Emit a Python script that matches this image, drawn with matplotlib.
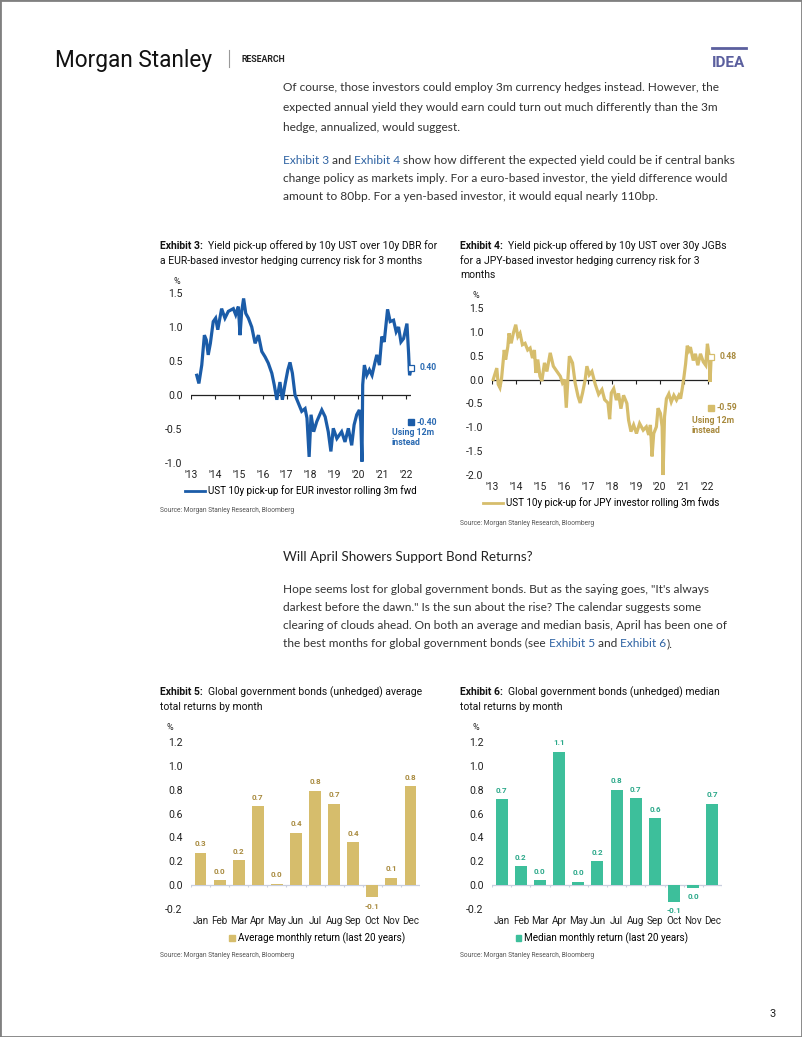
"""Morgan Stanley research page: two yield pick-up lines and two monthly return bar charts."""
import matplotlib; matplotlib.use("Agg")
import matplotlib.pyplot as plt
from matplotlib.lines import Line2D
from matplotlib.patches import Patch, Rectangle
from matplotlib.ticker import FormatStrFormatter

plt.rcParams['font.family'] = ['Roboto', 'DejaVu Sans']
plt.rcParams['axes.unicode_minus'] = False

# ---- Exhibit 3: UST 10y pick-up for EUR investor, rolling 3m fwd (%)
eur_year = [2013.24, 2013.33, 2013.45, 2013.56, 2013.64, 2013.72, 2013.81, 2013.93, 2014.03, 2014.12,
            2014.28, 2014.42, 2014.56, 2014.77, 2014.87, 2014.98, 2015.05, 2015.12, 2015.20, 2015.29,
            2015.40, 2015.54, 2015.68, 2015.82, 2015.96, 2016.10, 2016.23, 2016.38, 2016.48, 2016.59,
            2016.72, 2016.82, 2016.93, 2017.05, 2017.14, 2017.24, 2017.35, 2017.49, 2017.63, 2017.77,
            2017.85, 2017.94, 2018.02, 2018.13, 2018.26, 2018.47, 2018.61, 2018.74, 2018.85, 2018.95,
            2019.10, 2019.30, 2019.44, 2019.58, 2019.72, 2019.82, 2019.93, 2020.04, 2020.10, 2020.15,
            2020.18, 2020.25, 2020.35, 2020.46, 2020.57, 2020.70, 2020.77, 2020.88, 2020.98, 2021.08,
            2021.22, 2021.33, 2021.47, 2021.58, 2021.68, 2021.78, 2021.89, 2022.03, 2022.10, 2022.14,
            2022.20]
eur_val = [0.29, 0.17, 0.44, 0.88, 0.81, 0.59, 0.76, 1.08, 1.13, 0.96,
           1.27, 1.13, 1.23, 1.27, 1.18, 1.30, 0.88, 1.23, 1.42, 1.20,
           1.13, 1.00, 0.76, 0.88, 0.64, 0.56, 0.47, 0.32, 0.15, -0.07,
           0.19, -0.07, 0.15, 0.37, 0.48, 0.32, 0.00, -0.12, -0.24, -0.20,
           -0.34, -0.91, -0.29, -0.54, -0.39, -0.22, -0.32, -0.54, -0.83, -0.49,
           -0.64, -0.54, -0.69, -0.49, -0.74, -0.44, -0.29, -0.22, -0.39, -0.98,
           0.15, 0.44, 0.29, 0.37, 0.29, 0.49, 0.59, 0.44, 0.86, 0.78,
           1.26, 1.08, 1.10, 0.93, 1.00, 0.78, 0.83, 1.05, 0.61, 0.29,
           0.39]
eur_last, eur_12m = 0.40, -0.40

# ---- Exhibit 4: UST 10y pick-up for JPY investor, rolling 3m fwds (%)
jpy_year = [2013.05, 2013.20, 2013.26, 2013.33, 2013.40, 2013.51, 2013.57, 2013.66, 2013.71, 2013.80,
            2013.89, 2013.99, 2014.08, 2014.17, 2014.27, 2014.38, 2014.49, 2014.59, 2014.69, 2014.77,
            2014.83, 2014.91, 2015.00, 2015.08, 2015.19, 2015.29, 2015.43, 2015.56, 2015.71, 2015.85,
            2015.94, 2016.03, 2016.10, 2016.17, 2016.23, 2016.36, 2016.47, 2016.59, 2016.68, 2016.78,
            2016.89, 2016.96, 2017.06, 2017.17, 2017.31, 2017.45, 2017.59, 2017.70, 2017.84, 2017.91,
            2017.98, 2018.08, 2018.19, 2018.28, 2018.38, 2018.49, 2018.63, 2018.70, 2018.80, 2018.91,
            2019.03, 2019.16, 2019.31, 2019.44, 2019.54, 2019.61, 2019.68, 2019.75, 2019.86, 2019.93,
            2020.03, 2020.10, 2020.14, 2020.20, 2020.28, 2020.38, 2020.48, 2020.59, 2020.70, 2020.80,
            2020.87, 2020.94, 2021.01, 2021.08, 2021.15, 2021.22, 2021.28, 2021.40, 2021.49, 2021.59,
            2021.70, 2021.82, 2021.92, 2021.99, 2022.06, 2022.10, 2022.14]
jpy_val = [0.00, 0.24, -0.10, -0.17, 0.03, 0.62, 0.42, 0.69, 0.97, 0.76,
           0.97, 1.15, 0.90, 0.97, 0.73, 0.76, 0.62, 0.66, 0.45, 0.62,
           0.14, 0.42, 0.07, -0.03, 0.35, 0.17, 0.56, 0.28, 0.17, 0.07,
           -0.07, 0.00, -0.59, 0.03, 0.49, 0.35, -0.07, -0.35, -0.49, -0.28,
           0.00, 0.28, 0.10, 0.17, -0.10, -0.31, -0.21, -0.42, -0.49, -0.83,
           -0.28, -0.19, -0.43, -0.29, -0.61, -0.33, -0.50, -0.85, -1.09, -0.95,
           -1.13, -0.92, -1.06, -0.99, -1.16, -0.95, -1.61, -1.13, -0.99, -0.60,
           -0.71, -0.99, -2.00, -0.78, -0.40, -0.30, -0.47, -0.33, -0.43, -0.33,
           -0.40, -0.19, 0.05, 0.33, 0.71, 0.61, 0.68, 0.40, 0.54, 0.30,
           0.54, 0.37, 0.30, 0.75, 0.51, -0.05, 0.40]
jpy_last, jpy_12m = 0.48, -0.59

# ---- Exhibits 5 & 6: global government bonds (unhedged), last 20 years (%)
months = ["Jan", "Feb", "Mar", "Apr", "May", "Jun", "Jul", "Aug", "Sep", "Oct", "Nov", "Dec"]
avg_ret = [0.27, 0.04, 0.21, 0.66, 0.01, 0.44, 0.79, 0.68, 0.36, -0.10, 0.06, 0.83]
med_ret = [0.72, 0.16, 0.04, 1.12, 0.03, 0.20, 0.80, 0.73, 0.56, -0.14, -0.02, 0.68]

years = list(range(2013, 2023))
year_labels = ["'%02d" % (y % 100) for y in years]

BLUE = "#1b5ca8"
GOLD = "#d6bd6c"
GOLD_TXT = "#a88a3e"
TEAL = "#3dbf9b"
TEAL_TXT = "#2aa889"
LINK = "#2f63a3"
BODY = "#333333"

W, H = 802, 1037
fig = plt.figure(figsize=(W / 100, H / 100), dpi=100)
R = fig.canvas.get_renderer()


def box(l, t, r, b):
    return [l / W, 1 - b / H, (r - l) / W, (b - t) / H]


def put(x, y, s, **kw):
    return fig.text(x / W, 1 - y / H, s, **kw)


def width(s, **kw):
    t1 = fig.text(0, 0, s + "x", **kw)
    t2 = fig.text(0, 0, "x", **kw)
    w = t1.get_window_extent(R).width - t2.get_window_extent(R).width
    t1.remove(); t2.remove()
    return w


def runs(x, y, parts, **kw):
    for s, st in parts:
        put(x, y, s, va="baseline", **kw, **st)
        x += width(s, **kw, **st)


# page frame and header
fig.add_artist(Rectangle((0, 0), 1, 1, transform=fig.transFigure, fill=False,
                         ec="#808080", lw=2))
put(55, 67, "Morgan Stanley", fontsize=16.3, color="#111111", va="baseline",
    family=["Roboto"])
fig.add_artist(Line2D([229 / W] * 2, [1 - 50 / H, 1 - 67 / H], color="#999999", lw=0.8))
put(241, 62, "RESEARCH", fontsize=6.3, fontweight="bold", color="#222222", va="baseline")
fig.add_artist(Line2D([712 / W, 746 / W], [1 - 48 / H] * 2, color="#5b5f9e", lw=2))
put(712, 67, "IDEA", fontsize=11, fontweight="bold", color="#5b5f9e", va="baseline")

# body text
bt = dict(fontsize=8.6, family=["Lato", "DejaVu Sans"])
K = dict(color=BODY)
L = dict(color=LINK)
lines1 = ["Of course, those investors could employ 3m currency hedges instead. However, the",
          "expected annual yield they would earn could turn out much differently than the 3m",
          "hedge, annualized, would suggest."]
for i, s in enumerate(lines1):
    put(283, 91 + 20 * i, s, va="baseline", **bt, **K)
runs(283, 164, [("Exhibit 3 ", L), ("and ", K), ("Exhibit 4 ", L),
                ("show how different the expected yield could be if central banks", K)], **bt)
put(283, 182, "change policy as markets imply. For a euro-based investor, the yield difference would",
    va="baseline", **bt, **K)
put(283, 200, "amount to 80bp. For a yen-based investor, it would equal nearly 110bp.",
    va="baseline", **bt, **K)

put(283, 561, "Will April Showers Support Bond Returns?", va="baseline", fontsize=9.6,
    family=["Lato", "DejaVu Sans"], color="#222222")
lines3 = ["Hope seems lost for global government bonds. But as the saying goes, \"It's always",
          "darkest before the dawn.\" Is the sun about the rise? The calendar suggests some",
          "clearing of clouds ahead. On both an average and median basis, April has been one of"]
for i, s in enumerate(lines3):
    put(283, 593 + 18 * i, s, va="baseline", **bt, **K)
runs(283, 647, [("the best months for global government bonds (see ", K), ("Exhibit 5 ", L),
                ("and ", K), ("Exhibit 6", L), (").", K)], **bt)

put(770, 1017, "3", fontsize=8, color="#222222", va="baseline")

# exhibit titles and sources
tt = dict(fontsize=7.5, color="#111111")


def title(x, y, num, first, rest):
    runs(x, y, [("Exhibit %d:  " % num, dict(fontweight="bold")), (first, {})], **tt)
    for i, s in enumerate(rest):
        put(x, y + 14.5 * (i + 1), s, va="baseline", **tt)


title(160, 249, 3, "Yield pick-up offered by 10y UST over 10y DBR for",
      ["a EUR-based investor hedging currency risk for 3 months"])
title(460, 249, 4, "Yield pick-up offered by 10y UST over 30y JGBs",
      ["for a JPY-based investor hedging currency risk for 3", "months"])
title(160, 695, 5, "Global government bonds (unhedged) average", ["total returns by month"])
title(460, 695, 6, "Global government bonds (unhedged) median", ["total returns by month"])

src = "Source: Morgan Stanley Research, Bloomberg"
for x, y in [(160, 512), (460, 525), (160, 957), (460, 957)]:
    put(x, y, src, fontsize=4.8, color="#555555", va="baseline")


def base_axes(ax, ylim, step, xsize):
    ax.set_ylim(*ylim)
    n = int(round((ylim[1] - ylim[0]) / step))
    ax.set_yticks([ylim[0] + step * i for i in range(n + 1)])
    ax.yaxis.set_major_formatter(FormatStrFormatter("%.1f"))
    ax.tick_params(length=0, labelcolor="#222222")
    ax.tick_params(axis="y", pad=6, labelsize=7.6)
    ax.tick_params(axis="x", pad=5, labelsize=xsize)
    for sp in ax.spines.values():
        sp.set_visible(False)
    ax.patch.set_alpha(0)


def line_chart(ax, xs, ys, color, txtcol, last, alt, label, ylim, legend_xy, ann):
    ax.plot(xs, ys, color=color, lw=2.3, clip_on=False, zorder=3, solid_joinstyle="miter")
    ax.set_xlim(2013, xs[-1])
    base_axes(ax, ylim, 0.5, 7.4)
    ax.set_xticks(years)
    ax.set_xticklabels(year_labels)
    ax.axhline(0, color="#222222", lw=0.9, zorder=2)
    ax.vlines(years, 0, -0.025 * (ylim[1] - ylim[0]), color="#222222", lw=0.8, zorder=2)
    ax.plot([xs[-1]], [last], marker="s", ms=5, mfc="white", mec=color, mew=0.9,
            clip_on=False, zorder=4)
    ax.plot([xs[-1]], [alt], marker="s", ms=5, mfc=color, mec=color, clip_on=False, zorder=4)
    ax.annotate("%.2f" % last, (xs[-1], last), xytext=(6, 0), textcoords="offset points",
                va="center", fontsize=6.2, fontweight="bold", color=txtcol, annotation_clip=False)
    ax.annotate("%.2f" % alt, (xs[-1], alt), xytext=(4, 0), textcoords="offset points",
                va="center", fontsize=6.2, fontweight="bold", color=txtcol, annotation_clip=False)
    put(ann[0], ann[1], "Using 12m\ninstead", fontsize=6.3, fontweight="bold", color=txtcol,
        va="top", linespacing=1.1)
    ax.legend([Line2D([], [], color=color, lw=2)], [label], loc="center", frameon=False,
              bbox_to_anchor=(legend_xy[0] / W, 1 - legend_xy[1] / H),
              bbox_transform=fig.transFigure, fontsize=7.1, handlelength=2.0, handletextpad=0.3,
              borderpad=0, borderaxespad=0)


ax3 = fig.add_axes(box(191, 293, 411, 463))
line_chart(ax3, eur_year, eur_val, BLUE, "#2a6ab2", eur_last, eur_12m,
           "UST 10y pick-up for EUR investor rolling 3m fwd", (-1.0, 1.5), (301, 491), (392, 428))
put(177, 282, "%", fontsize=6.5, ha="center", va="center", color="#222222")

ax4 = fig.add_axes(box(492, 308, 711, 475))
line_chart(ax4, jpy_year, jpy_val, GOLD, GOLD_TXT, jpy_last, jpy_12m,
           "UST 10y pick-up for JPY investor rolling 3m fwds", (-2.0, 1.5), (601, 503), (692, 416))
put(476, 296, "%", fontsize=6.5, ha="center", va="center", color="#222222")


def bar_chart(ax, vals, color, txtcol, label, legend_xy):
    xs = list(range(len(vals)))
    ax.bar(xs, vals, width=0.62, color=color, zorder=3)
    ax.set_xlim(-0.5, len(vals) - 0.5)
    base_axes(ax, (-0.2, 1.2), 0.2, 7.1)
    ax.set_xticks(xs)
    ax.set_xticklabels(months)
    ax.axhline(0, color="#c9cfdf", lw=0.9, zorder=2)
    ax.vlines([x - 0.5 for x in xs] + [len(vals) - 0.5], 0, -0.012, color="#c9cfdf", lw=0.8)
    for x, v in zip(xs, vals):
        ax.annotate("%.1f" % (round(v, 1) + 0.0), (x, v), xytext=(0, 4 if v >= 0 else -4),
                    textcoords="offset points", ha="center", va="bottom" if v >= 0 else "top",
                    fontsize=5.8, fontweight="bold", color=txtcol)
    ax.legend([Patch(color=color)], [label], loc="center", frameon=False,
              bbox_to_anchor=(legend_xy[0] / W, 1 - legend_xy[1] / H),
              bbox_transform=fig.transFigure, fontsize=7.1, handlelength=0.6, handleheight=0.6,
              handletextpad=0.3, borderpad=0, borderaxespad=0)


ax5 = fig.add_axes(box(191, 742, 420, 909))
bar_chart(ax5, avg_ret, GOLD, GOLD_TXT, "Average monthly return (last 20 years)", (317, 938))
put(170, 728, "%", fontsize=6.5, ha="center", va="center", color="#222222")

ax6 = fig.add_axes(box(492, 742, 722, 909))
bar_chart(ax6, med_ret, TEAL, TEAL_TXT, "Median monthly return (last 20 years)", (602, 938))
put(476, 728, "%", fontsize=6.5, ha="center", va="center", color="#222222")

fig.savefig("out.png", dpi=100)
